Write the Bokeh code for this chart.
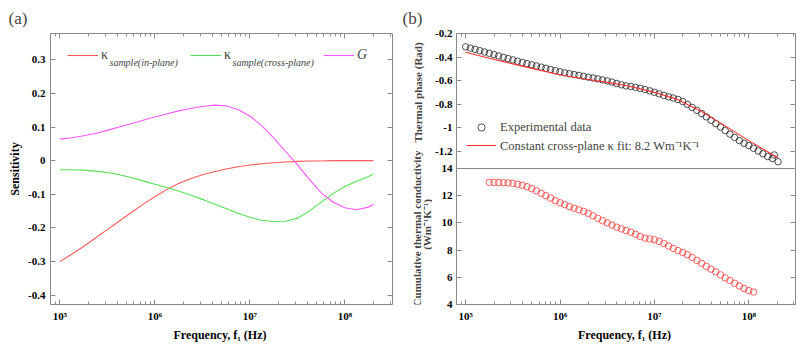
import numpy as np
from bokeh.plotting import figure
from bokeh.models import (Range1d, LinearAxis, LogAxis, FixedTicker,
                          CustomJSTickFormatter, Label, Legend, LegendItem, Span, Title)
from bokeh.layouts import row
from bokeh.embed import file_html
from bokeh.resources import INLINE

# ---------------- data: panel (a) sensitivity ----------------
sens_log10_freq = [5.0, 5.125, 5.25, 5.375, 5.5, 5.625, 5.75, 5.875, 6.0, 6.125, 6.25, 6.375,
                   6.5, 6.625, 6.75, 6.875, 7.0, 7.125, 7.25, 7.375, 7.5, 7.625, 7.75, 7.875,
                   8.0, 8.125, 8.25, 8.3]
sens_k_inplane = [-0.300, -0.278, -0.255, -0.230, -0.205, -0.180, -0.155, -0.130, -0.107, -0.086,
                  -0.068, -0.054, -0.042, -0.033, -0.025, -0.018, -0.013, -0.009, -0.006, -0.004,
                  -0.002, -0.001, -0.001, 0.000, 0.000, 0.000, 0.000, 0.000]
sens_k_crossplane = [-0.027, -0.027, -0.028, -0.031, -0.035, -0.042, -0.050, -0.060, -0.070, -0.080,
                     -0.090, -0.102, -0.115, -0.129, -0.142, -0.156, -0.168, -0.177, -0.181, -0.180,
                     -0.171, -0.150, -0.124, -0.098, -0.077, -0.061, -0.047, -0.040]
sens_G = [0.064, 0.068, 0.074, 0.081, 0.090, 0.100, 0.110, 0.120, 0.130, 0.139, 0.148, 0.155,
          0.161, 0.165, 0.163, 0.152, 0.133, 0.104, 0.068, 0.028, -0.012, -0.055, -0.095, -0.123,
          -0.140, -0.146, -0.138, -0.130]
sens_yticks = [-0.4, -0.3, -0.2, -0.1, 0.0, 0.1, 0.2, 0.3]

# ---------------- data: panel (b) top, thermal phase ----------------
phase_log10_freq = [5.00, 5.05, 5.10, 5.15, 5.20, 5.25, 5.30, 5.35, 5.40, 5.45, 5.50, 5.55, 5.60,
                    5.65, 5.70, 5.75, 5.80, 5.85, 5.90, 5.95, 6.00, 6.05, 6.10, 6.15, 6.20, 6.25,
                    6.30, 6.35, 6.40, 6.45, 6.50, 6.55, 6.60, 6.65, 6.70, 6.75, 6.80, 6.85, 6.90,
                    6.95, 7.00, 7.05, 7.10, 7.15, 7.20, 7.25, 7.30, 7.35, 7.40, 7.45, 7.50, 7.55,
                    7.60, 7.65, 7.70, 7.75, 7.80, 7.85, 7.90, 7.95, 8.00, 8.05, 8.10, 8.15, 8.20,
                    8.25, 8.27, 8.31]
phase_exp = [-0.313, -0.324, -0.335, -0.346, -0.357, -0.368, -0.380, -0.391, -0.402, -0.413,
             -0.424, -0.435, -0.446, -0.456, -0.466, -0.476, -0.486, -0.496, -0.506, -0.516,
             -0.526, -0.534, -0.542, -0.549, -0.556, -0.564, -0.571, -0.578, -0.586, -0.594,
             -0.603, -0.613, -0.625, -0.636, -0.645, -0.650, -0.657, -0.666, -0.676, -0.687,
             -0.700, -0.713, -0.726, -0.738, -0.748, -0.760, -0.778, -0.802, -0.828, -0.853,
             -0.880, -0.908, -0.937, -0.966, -0.995, -1.025, -1.055, -1.083, -1.110, -1.133,
             -1.152, -1.175, -1.198, -1.222, -1.245, -1.262, -1.232, -1.290]
fit_log10_freq = [5.0, 5.25, 5.5, 5.75, 6.0, 6.25, 6.5, 6.75, 7.0, 7.25, 7.5, 7.75, 8.0, 8.25, 8.31]
phase_fit = [-0.360, -0.410, -0.458, -0.505, -0.550, -0.585, -0.615, -0.650, -0.700, -0.762,
             -0.862, -0.985, -1.110, -1.228, -1.256]
phase_yticks = [-1.2, -1.0, -0.8, -0.6, -0.4, -0.2]

# ---------------- data: panel (b) bottom, cumulative conductivity ----------------
cum_log10_freq = [5.25, 5.30, 5.35, 5.40, 5.45, 5.50, 5.55, 5.60, 5.65, 5.70, 5.75, 5.80, 5.85,
                  5.90, 5.95, 6.00, 6.05, 6.10, 6.15, 6.20, 6.25, 6.30, 6.35, 6.40, 6.45, 6.50,
                  6.55, 6.60, 6.65, 6.70, 6.75, 6.80, 6.85, 6.90, 6.95, 7.00, 7.05, 7.10, 7.15,
                  7.20, 7.25, 7.30, 7.35, 7.40, 7.45, 7.50, 7.55, 7.60, 7.65, 7.70, 7.75, 7.80,
                  7.85, 7.90, 7.95, 8.00, 8.05]
cum_k = [12.98, 12.98, 12.97, 12.96, 12.94, 12.90, 12.85, 12.77, 12.66, 12.52, 12.36, 12.18, 12.00,
         11.82, 11.64, 11.48, 11.34, 11.20, 11.08, 10.96, 10.84, 10.70, 10.52, 10.34, 10.16, 10.00,
         9.84, 9.68, 9.56, 9.44, 9.32, 9.16, 9.00, 8.88, 8.82, 8.76, 8.64, 8.48, 8.30,
         8.12, 7.96, 7.82, 7.66, 7.46, 7.24, 7.02, 6.80, 6.60, 6.40, 6.18, 5.96, 5.76,
         5.56, 5.36, 5.18, 5.02, 4.92]
cum_yticks = [4, 6, 8, 10, 12, 14]

# log-axis tick positions (decades and the 2..9 mantissas between them)
decade_ticks = [1e5, 1e6, 1e7, 1e8]
minor_decade_ticks = [m * 10.0 ** e for e in range(4, 9) for m in range(2, 10)]

# ---------------- styling ----------------
FONT = "Liberation Serif"
GRAY = "#8a8a8a"
RED_A = "#ff5a5a"
GREEN_A = "#55e055"
MAG_A = "#ff55ff"
XLABEL = "Frequency,  f\u2081 (Hz)"
FRAME_TOP, FRAME_BOTTOM = 33, 304

sup_js = """
const sup = {'0':'\u2070','1':'\u00b9','2':'\u00b2','3':'\u00b3','4':'\u2074','5':'\u2075',
             '6':'\u2076','7':'\u2077','8':'\u2078','9':'\u2079','-':'\u207b'};
const e = Math.round(Math.log10(tick));
return '10' + String(e).split('').map(c => sup[c]).join('');
"""


def style_axis(ax, labels=True, minor=True, standoff=5):
    ax.axis_line_color = GRAY
    ax.major_tick_line_color = GRAY
    ax.minor_tick_line_color = GRAY if minor else None
    ax.major_tick_in = 5
    ax.major_tick_out = 0
    ax.minor_tick_in = 3
    ax.minor_tick_out = 0
    ax.major_label_text_font = FONT
    ax.major_label_text_font_style = "bold"
    ax.major_label_text_font_size = "11px"
    ax.major_label_text_color = "black"
    ax.major_label_standoff = standoff
    ax.axis_label_text_font = FONT
    ax.axis_label_text_font_style = "bold"
    ax.axis_label_text_font_size = "12px"
    ax.axis_label_text_color = "black"
    if not labels:
        ax.formatter = CustomJSTickFormatter(code="return '';")
        ax.major_label_text_font_size = "0px"
        ax.major_label_standoff = 0


def log_ticker():
    return FixedTicker(ticks=decade_ticks, minor_ticks=minor_decade_ticks)


def base_fig(w, h, xr, yr, left, right, top, bottom, log=True):
    f = figure(width=w, height=h, x_axis_type="log" if log else "linear", title=None,
               x_range=xr, y_range=yr, x_axis_location=None, y_axis_location=None,
               min_border_left=left, min_border_right=right,
               min_border_top=top, min_border_bottom=bottom,
               output_backend="svg", toolbar_location=None,
               background_fill_color="white", border_fill_color="white")
    f.outline_line_color = None
    f.xgrid.visible = False
    f.ygrid.visible = False
    return f


def panel_title(text, offset):
    return Title(text=text, align="left", offset=offset, standoff=12,
                 text_font=FONT, text_font_size="17px", text_font_style="normal")


# =============== panel (a) ===============
A_LEFT, A_W = 50, 342
ax_lo, ax_hi = 4.902, 8.502
ay_lo, ay_hi = -0.4275, 0.378

pa = base_fig(400, 347, Range1d(10 ** ax_lo, 10 ** ax_hi), Range1d(ay_lo, ay_hi),
              A_LEFT, 400 - A_LEFT - A_W, FRAME_TOP, 347 - FRAME_BOTTOM)
A_H = FRAME_BOTTOM - FRAME_TOP


def a_px(px, py):
    return (10 ** (ax_lo + (px - A_LEFT) * (ax_hi - ax_lo) / A_W),
            ay_hi - (py - FRAME_TOP) * (ay_hi - ay_lo) / A_H)


xb = LogAxis(ticker=log_ticker())
xb.formatter = CustomJSTickFormatter(code=sup_js)
style_axis(xb)
xb.axis_label = XLABEL
xb.axis_label_standoff = 3
pa.add_layout(xb, "below")
xt = LogAxis(ticker=log_ticker())
style_axis(xt, labels=False)
pa.add_layout(xt, "above")
yl = LinearAxis(ticker=FixedTicker(ticks=sens_yticks, minor_ticks=[]))
yl.formatter = CustomJSTickFormatter(code="return String(Math.round(tick*10)/10);")
style_axis(yl, minor=False)
yl.axis_label = "Sensitivity"
yl.axis_label_standoff = 3
pa.add_layout(yl, "left")
yr = LinearAxis(ticker=FixedTicker(ticks=sens_yticks, minor_ticks=[]))
style_axis(yr, labels=False, minor=False)
pa.add_layout(yr, "right")
pa.add_layout(panel_title("(a)", -42), "above")

fa = [10 ** v for v in sens_log10_freq]
r1 = pa.line(fa, sens_k_inplane, line_color=RED_A, line_width=1.1)
r2 = pa.line(fa, sens_k_crossplane, line_color=GREEN_A, line_width=1.1)
r3 = pa.line(fa, sens_G, line_color=MAG_A, line_width=1.1)

for rend, lab, gx, italic in [(r1, "\u03ba", 67, False), (r2, "\u03ba", 190, False), (r3, "G", 323, True)]:
    lg = Legend(items=[LegendItem(label=lab, renderers=[rend])],
                location=(gx - A_LEFT, FRAME_BOTTOM - 56 - 7),
                glyph_width=31, glyph_height=14, label_height=14, label_standoff=3,
                padding=0, margin=0, spacing=0,
                border_line_alpha=0, background_fill_alpha=0,
                label_text_font=FONT, label_text_font_size="14px",
                label_text_font_style="italic" if italic else "normal")
    pa.add_layout(lg)

for txt, px in [("sample(in-plane)", 109), ("sample(cross-plane)", 232)]:
    x, y = a_px(px, 62)
    pa.add_layout(Label(x=x, y=y, text=txt, text_font=FONT, text_font_style="italic",
                        text_font_size="10px", text_baseline="middle", text_align="left"))

# =============== strip holding the left texts of panel (b) ===============
# its frame is aligned with the other frames (rows FRAME_TOP..FRAME_BOTTOM); y data = pixel row
S_W = 32
strip = base_fig(S_W, 347, Range1d(0, S_W), Range1d(FRAME_BOTTOM, FRAME_TOP), 0, 0,
                 FRAME_TOP, 347 - FRAME_BOTTOM, log=False)
lab_kw = dict(text_font=FONT, text_font_style="bold", text_font_size="11px",
              text_align="center", text_baseline="middle", angle=np.pi / 2)
strip.add_layout(Label(x=17, y=92, text="Thermal phase (Rad)", **lab_kw))
strip.add_layout(Label(x=16, y=228, text="Cumulative thermal conductivity", **lab_kw))
strip.add_layout(Label(x=26, y=224, text="(Wm\u207b\u00b9K\u207b\u00b9)", **lab_kw))
strip.add_layout(panel_title("(b)", 2), "above")

# =============== panel (b) ===============
B_W_TOTAL = 805 - 400 - S_W
B_LEFT, B_W = 453 - 400 - S_W, 342
B_H = FRAME_BOTTOM - FRAME_TOP
B_MID = 135  # px from frame top to the divider
bx_lo, bx_hi = 4.903, 8.495
ph_hi = -0.2
ph_lo = ph_hi - 1.147 * B_H / B_MID
cum_lo = 4.0
cum_hi = cum_lo + 10.0 * B_H / (B_H - B_MID)

pb = base_fig(B_W_TOTAL, 347, Range1d(10 ** bx_lo, 10 ** bx_hi), Range1d(cum_lo, cum_hi),
              B_LEFT, B_W_TOTAL - B_LEFT - B_W, FRAME_TOP, 347 - FRAME_BOTTOM)
pb.extra_y_ranges = {"phase": Range1d(ph_lo, ph_hi)}


def to_cum(t):
    return cum_lo + (t - ph_lo) / (ph_hi - ph_lo) * (cum_hi - cum_lo)


left_ticks = list(cum_yticks) + [min(to_cum(t), cum_hi - 1e-9) for t in phase_yticks]
fmt_b = CustomJSTickFormatter(args=dict(ph_lo=ph_lo, ph_hi=ph_hi, c_lo=cum_lo, c_hi=cum_hi), code="""
if (tick > 14.05) {
  const t = ph_lo + (tick - c_lo) / (c_hi - c_lo) * (ph_hi - ph_lo);
  return String(Math.round(t * 10) / 10);
}
return String(Math.round(tick));
""")

xbb = LogAxis(ticker=log_ticker())
xbb.formatter = CustomJSTickFormatter(code=sup_js)
style_axis(xbb)
xbb.axis_label = XLABEL
xbb.axis_label_standoff = 3
pb.add_layout(xbb, "below")
xbt = LogAxis(ticker=log_ticker())
style_axis(xbt, labels=False)
pb.add_layout(xbt, "above")
ybl = LinearAxis(ticker=FixedTicker(ticks=left_ticks, minor_ticks=[]))
ybl.formatter = fmt_b
style_axis(ybl, minor=False, standoff=4)
pb.add_layout(ybl, "left")
ybr = LinearAxis(ticker=FixedTicker(ticks=left_ticks, minor_ticks=[]))
style_axis(ybr, labels=False, minor=False)
pb.add_layout(ybr, "right")

pb.add_layout(Span(location=14, dimension="width", line_color=GRAY, line_width=1))

fp = [10 ** v for v in phase_log10_freq]
ff = [10 ** v for v in fit_log10_freq]
fc = [10 ** v for v in cum_log10_freq]
rc = pb.scatter(fp, phase_exp, y_range_name="phase", marker="circle", size=6.5,
                fill_color=None, line_color="#222222", line_width=0.8)
rf = pb.line(ff, phase_fit, y_range_name="phase", line_color="#ff3030", line_width=1.1)
pb.scatter(fc, cum_k, marker="circle", size=6.5, fill_color=None,
           line_color="#ff3a3a", line_width=0.8)

legb = Legend(items=[LegendItem(label="Experimental data", renderers=[rc]),
                     LegendItem(label="Constant cross-plane \u03ba fit: 8.2 Wm\u207b\u00b9K\u207b\u00b9",
                                renderers=[rf])],
              location=(10, FRAME_BOTTOM - 145 - 9), orientation="vertical",
              glyph_width=30, glyph_height=18, label_height=18, label_standoff=4,
              padding=0, margin=0, spacing=0,
              border_line_alpha=0, background_fill_alpha=0,
              label_text_font=FONT, label_text_font_size="12.5px")
pb.add_layout(legb)

layout = row(pa, strip, pb, spacing=0)
open("out.html", "w").write(file_html(layout, INLINE))
